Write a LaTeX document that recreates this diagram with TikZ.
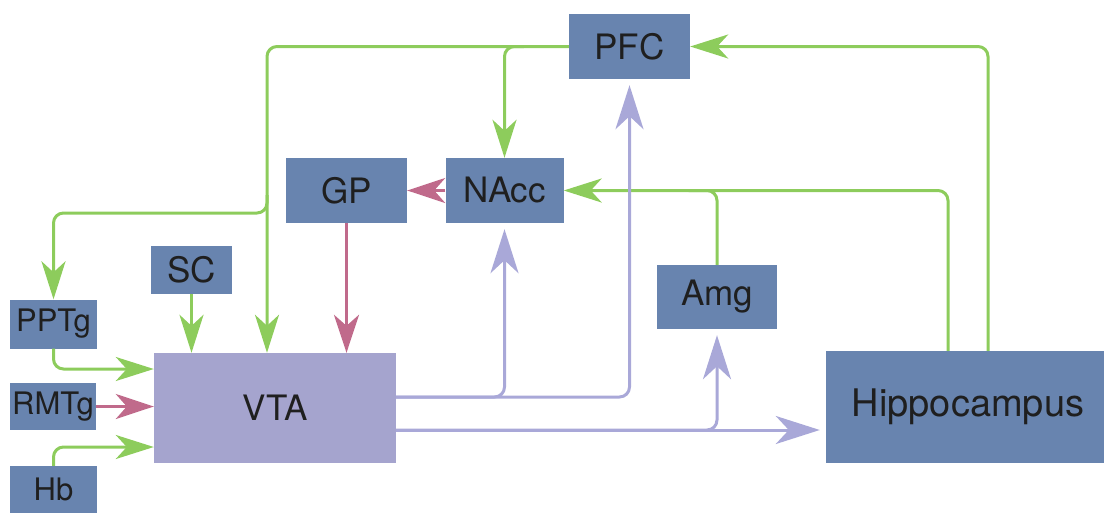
\documentclass[tikz,border=0pt]{standalone}
\usepackage{fontspec}
\setmainfont{TeX Gyre Heros}
\usetikzlibrary{arrows.meta}

\definecolor{regionblue}{HTML}{6884AF}
\definecolor{vtafill}{HTML}{A5A4CE}
\definecolor{glutgreen}{HTML}{8DCC5C}
\definecolor{gabared}{HTML}{C06A8B}
\definecolor{dalilac}{HTML}{A9A8D8}

\tikzset{
  region/.style={rectangle, fill=regionblue, inner sep=0pt, text=black!88,
    font=\fontsize{35}{38}\selectfont},
  smallregion/.style={region, font=\fontsize{31}{34}\selectfont},
  glut/.style={draw=glutgreen, line width=3pt, rounded corners=10pt,
    -{Stealth[length=38pt, width=24pt, inset=11pt]}},
  gaba/.style={draw=gabared, line width=3pt,
    -{Stealth[length=38pt, width=25pt, inset=11pt]}},
  dopa/.style={draw=dalilac, line width=3pt, rounded corners=10pt, shorten >=6pt,
    -{Stealth[length=44pt, width=28pt, inset=13pt]}}
}

\begin{document}
\begin{tikzpicture}[x=1pt, y=-1pt]

    \useasboundingbox (0,0) rectangle (1104,512);

    % --- Regions ---
    \node[region, minimum width=121pt, minimum height=65pt] (pfc) at (629.5,46.5) {PFC};
    \node[region, minimum width=121pt, minimum height=65pt] (gp) at (346.5,190.5) {GP};
    \node[region, minimum width=118pt, minimum height=65pt] (nacc) at (504.5,190.5) {NAcc};
    \node[region, minimum width=81pt, minimum height=48pt] (sc) at (191.5,270) {SC};
    \node[region, minimum width=120pt, minimum height=64pt] (amg) at (717,297) {Amg};
    \node[smallregion, minimum width=87pt, minimum height=49pt] (pptg) at (53.5,324) {PPTg};
    \node[smallregion, minimum width=86pt, minimum height=47pt] (rmtg) at (53,406.5) {RMTg};
    \node[smallregion, minimum width=87pt, minimum height=47pt] (hb) at (53.5,489.5) {Hb};
    \node[region, fill=vtafill, minimum width=242pt, minimum height=110pt] (vta) at (275,408) {VTA};
    \node[region, minimum width=284pt, minimum height=112pt,
      font=\fontsize{38}{41}\selectfont] (hip) at (968,407) {Hippocampus};

    % --- Hilfspunkte ---
    \coordinate (pfcleft) at ([xshift=-45pt]pfc.west);
    \coordinate (fork) at (267,195);
    \coordinate (vtahi) at ([yshift=11pt]vta.east);
    \coordinate (vtalo) at ([yshift=-22pt]vta.east);
    \coordinate (naccright) at ([xshift=125pt]nacc.east);

    % --- Glutamat (green) ---
    \draw[glut] (pfc.west) -| ([xshift=-8pt]vta.north);
    \draw[glut] (fork) -- (267,213) -| (pptg.north);
    \draw[glut] (pfcleft) -| (nacc.north);
    \draw[glut] ([xshift=20pt]hip.north) |- (pfc.east);
    \draw[glut] ([xshift=-20pt]hip.north) |- (nacc.east);
    \draw[glut, -] (amg.north) |- (naccright);
    \draw[glut] (sc.south) -- (sc.south |- vta.north);
    \draw[glut] (pptg.south) |- ([yshift=39pt]vta.west);
    \draw[glut] (hb.north) |- ([yshift=-39pt]vta.west);

    % --- GABA (red) ---
    \draw[gaba] (rmtg.east) -- (rmtg.east -| vta.west);
    \draw[gaba] (gp.south) -- (gp.south |- vta.north);
    \draw[gaba] (nacc.west) -- (gp.east);

    % --- Dopamin (lilac) ---
    \draw[dopa] (vtahi) -| (pfc.south);
    \draw[dopa] (vtahi) -| (nacc.south);
    \draw[dopa] (vtalo) -| (amg.south);
    \draw[dopa] (vtalo) -- (vtalo -| hip.west);

\end{tikzpicture}
\end{document}
